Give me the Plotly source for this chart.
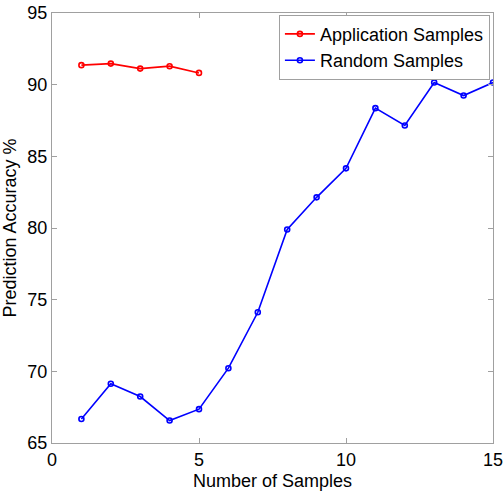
import plotly.graph_objects as go

app_x = [1, 2, 3, 4, 5]
app_y = [91.36, 91.47, 91.12, 91.29, 90.82]
rand_x = list(range(1, 16))
rand_y = [66.67, 69.13, 68.24, 66.57, 67.36, 70.22, 74.12, 79.9, 82.14, 84.16,
          88.36, 87.15, 90.15, 89.24, 90.15]
x_ticks = [0, 5, 10, 15]
y_ticks = [65, 70, 75, 80, 85, 90, 95]

font = "Liberation Sans, Arial, Helvetica, sans-serif"

fig = go.Figure()
fig.add_trace(go.Scatter(x=app_x, y=app_y, mode="lines+markers", name="Application Samples",
                         line=dict(color="#ff0000", width=1.6),
                         marker=dict(symbol="circle-open", size=5, color="#ff0000", line=dict(width=1.6))))
fig.add_trace(go.Scatter(x=rand_x, y=rand_y, mode="lines+markers", name="Random Samples",
                         line=dict(color="#0000ff", width=1.6),
                         marker=dict(symbol="circle-open", size=5, color="#0000ff", line=dict(width=1.6))))

axis_common = dict(showgrid=False, zeroline=False, showline=True, linecolor="#a0a0a0", linewidth=1,
                   mirror="ticks", ticks="inside", ticklen=5, tickcolor="#a0a0a0", automargin=False,
                   ticklabeloverflow="allow",
                   tickfont=dict(family=font, size=18, color="black"))
fig.update_xaxes(range=[0, 15], tickvals=x_ticks,
                 title=dict(text="Number of Samples", font=dict(family=font, size=18, color="black")),
                 **axis_common)
fig.update_yaxes(range=[65, 95], tickvals=y_ticks,
                 title=dict(text="Prediction Accuracy %", font=dict(family=font, size=18, color="black")),
                 **axis_common)

fig.update_layout(width=503, height=491, plot_bgcolor="white", paper_bgcolor="white",
                  margin=dict(l=52, r=10, t=13, b=48),
                  font=dict(family=font, size=18, color="black"),
                  legend=dict(x=0.993, y=0.996, xanchor="right", yanchor="top",
                              bgcolor="white", bordercolor="#a0a0a0", borderwidth=1,
                              font=dict(family=font, size=18, color="black"),
                              tracegroupgap=0, itemwidth=30))
fig.write_html("out.html")
